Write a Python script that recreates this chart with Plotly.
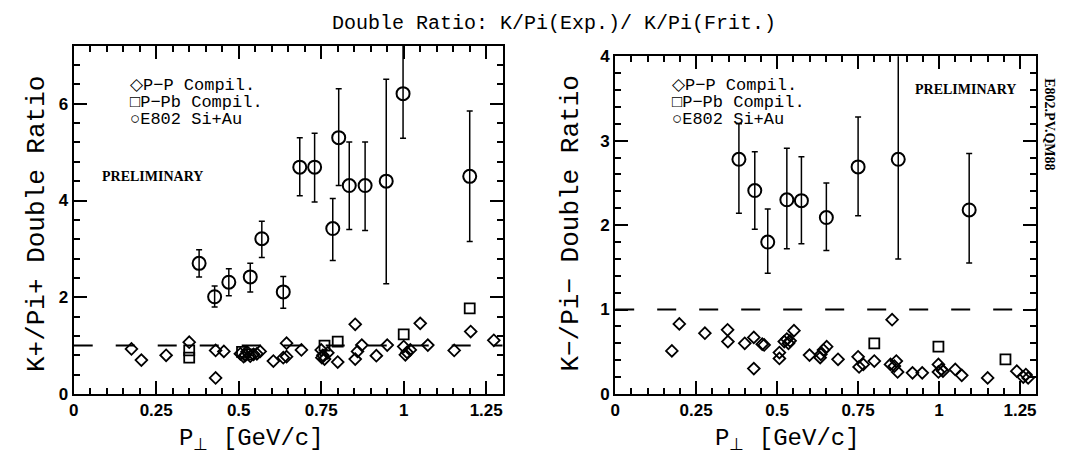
import plotly.graph_objects as go
from plotly.subplots import make_subplots

# ---------------- Left panel: K+/Pi+ double ratio ----------------
pp_pos_x = [0.175, 0.205, 0.28, 0.35, 0.43, 0.43, 0.455, 0.505, 0.515, 0.52, 0.525, 0.535,
            0.545, 0.555, 0.565, 0.605, 0.635, 0.645, 0.645, 0.69, 0.75, 0.752, 0.755, 0.76,
            0.77, 0.80, 0.853, 0.853, 0.86, 0.873, 0.917, 0.95, 1.0, 1.005, 1.01, 1.02,
            1.05, 1.073, 1.153, 1.203, 1.273]
pp_pos_y = [0.93, 0.70, 0.80, 1.07, 0.33, 0.90, 0.88, 0.83, 0.77, 0.80, 0.87, 0.78,
            0.82, 0.83, 0.88, 0.68, 0.75, 0.77, 1.05, 0.91, 0.91, 0.75, 0.80, 0.72,
            0.85, 0.66, 1.44, 0.72, 0.88, 1.01, 0.79, 1.01, 0.98, 0.81, 0.86, 0.91,
            1.46, 1.01, 0.90, 1.29, 1.11]
ppb_pos_x = [0.35, 0.35, 0.51, 0.53, 0.76, 0.80, 1.0, 1.2]
ppb_pos_y = [0.90, 0.75, 0.87, 0.82, 1.00, 1.08, 1.23, 1.77]
e802_pos_x = [0.38, 0.427, 0.47, 0.535, 0.57, 0.635, 0.685, 0.73, 0.785, 0.803, 0.835,
              0.883, 0.947, 0.998, 1.2]
e802_pos_y = [2.70, 2.01, 2.31, 2.42, 3.21, 2.11, 4.69, 4.69, 3.42, 5.30, 4.31,
              4.31, 4.40, 6.21, 4.50]
e802_pos_errp = [0.28, 0.22, 0.28, 0.28, 0.36, 0.32, 0.61, 0.70, 0.62, 1.01, 0.90,
                 0.90, 2.11, 2.0, 1.35]
e802_pos_errm = [0.28, 0.21, 0.28, 0.31, 0.39, 0.34, 0.59, 0.72, 0.66, 0.99, 0.91,
                 0.93, 2.12, 0.92, 1.35]

# ---------------- Right panel: K-/Pi- double ratio ----------------
pp_neg_x = [0.175, 0.198, 0.277, 0.347, 0.348, 0.40, 0.428, 0.428, 0.454, 0.46, 0.507,
            0.507, 0.522, 0.53, 0.535, 0.54, 0.552, 0.60, 0.635, 0.643, 0.653, 0.633,
            0.688, 0.75, 0.753, 0.766, 0.80, 0.855, 0.85, 0.862, 0.868, 0.872, 0.918,
            0.948, 0.998, 0.998, 1.008, 1.012, 1.05, 1.07, 1.15, 1.24, 1.26, 1.268, 1.275]
pp_neg_y = [0.51, 0.83, 0.72, 0.76, 0.62, 0.60, 0.67, 0.30, 0.59, 0.58, 0.49,
            0.42, 0.62, 0.65, 0.60, 0.63, 0.75, 0.46, 0.47, 0.52, 0.56, 0.43,
            0.41, 0.44, 0.32, 0.35, 0.39, 0.88, 0.35, 0.33, 0.39, 0.26, 0.25,
            0.25, 0.35, 0.26, 0.29, 0.27, 0.29, 0.22, 0.19, 0.27, 0.20, 0.23, 0.19]
ppb_neg_x = [0.80, 0.998, 1.205]
ppb_neg_y = [0.60, 0.56, 0.41]
e802_neg_x = [0.382, 0.431, 0.471, 0.53, 0.575, 0.652, 0.75, 0.874, 1.093]
e802_neg_y = [2.78, 2.41, 1.80, 2.30, 2.29, 2.09, 2.69, 2.78, 2.18]
e802_neg_errp = [0.42, 0.46, 0.39, 0.61, 0.52, 0.41, 0.59, 1.5, 0.67]
e802_neg_errm = [0.64, 0.46, 0.37, 0.58, 0.51, 0.39, 0.58, 1.18, 0.63]

x_major_step = 0.25
x_minor_step = 0.05
ypos_major_step, ypos_minor_step = 2, 0.4
yneg_major_step, yneg_minor_step = 1, 0.2
x_range = [0, 1.3]
ypos_range = [0, 7.2]
yneg_range = [0, 4]

W, H = 1077, 465
MONO = "Liberation Mono"

fig = make_subplots(rows=1, cols=2)

open_line = dict(color="black", width=1.8)
err_style = dict(type="data", symmetric=False, thickness=1.5, width=3, color="black")

for col, (px_, py_, bx_, by_, ex_, ey_, ep_, em_) in enumerate([
        (pp_pos_x, pp_pos_y, ppb_pos_x, ppb_pos_y, e802_pos_x, e802_pos_y, e802_pos_errp, e802_pos_errm),
        (pp_neg_x, pp_neg_y, ppb_neg_x, ppb_neg_y, e802_neg_x, e802_neg_y, e802_neg_errp, e802_neg_errm)], start=1):
    fig.add_trace(go.Scatter(x=px_, y=py_, mode="markers", name="P-P Compil.",
                             marker=dict(symbol="diamond-open", size=9, color="black", line=open_line),
                             showlegend=False), row=1, col=col)
    fig.add_trace(go.Scatter(x=bx_, y=by_, mode="markers", name="P-Pb Compil.",
                             marker=dict(symbol="square-open", size=10, color="black", line=open_line),
                             showlegend=False), row=1, col=col)
    fig.add_trace(go.Scatter(x=ex_, y=ey_, mode="markers", name="E802 Si+Au",
                             marker=dict(symbol="circle-open", size=13, color="black", line=dict(color="black", width=2)),
                             error_y=dict(err_style, array=ep_, arrayminus=em_),
                             showlegend=False), row=1, col=col)

# reference lines at ratio = 1
for xref, yref in [("x", "y"), ("x2", "y2")]:
    fig.add_shape(type="line", xref=xref, yref=yref, x0=x_range[0], x1=x_range[1], y0=1, y1=1,
                  line=dict(color="black", width=2, dash="19px,23px"))

AX_COMMON = dict(showline=True, linewidth=2, linecolor="black", mirror="ticks",
                 ticks="inside", ticklen=13, tickwidth=2, tickcolor="black",
                 showgrid=False, zeroline=False,
                 tickfont=dict(family="Liberation Sans", size=17, color="black", weight="bold"))

def minor(step):
    return dict(ticks="inside", ticklen=6, tickwidth=1.5, tickcolor="black",
                tickmode="linear", tick0=0, dtick=step)

left_x = [61 / W, 492 / W]
right_x = [605 / W, 1028 / W]
bottom = (H - 393) / H

for col, dom in [(1, left_x), (2, right_x)]:
    fig.update_xaxes(domain=dom, range=x_range, tickmode="linear", tick0=0, dtick=x_major_step,
                     minor=minor(x_minor_step), row=1, col=col, **AX_COMMON)
fig.update_yaxes(domain=[bottom, (H - 30) / H], range=ypos_range, tickmode="linear", tick0=0,
                 dtick=ypos_major_step, minor=minor(ypos_minor_step), row=1, col=1, **AX_COMMON)
fig.update_yaxes(domain=[bottom, (H - 41) / H], range=yneg_range, tickmode="linear", tick0=0,
                 dtick=yneg_major_step, minor=minor(yneg_minor_step), row=1, col=2, **AX_COMMON)

def ann(text, x, y, size, family=MONO, angle=0, xanchor="center", weight="normal"):
    fig.add_annotation(text=text, xref="paper", yref="paper", x=x / W, y=1 - y / H,
                       xanchor=xanchor, yanchor="middle", showarrow=False, textangle=angle,
                       font=dict(family=family, size=size, color="black", weight=weight))

# axis titles
ann("P<sub>⊥</sub> [GeV/c]", 240, 441, 24)
ann("P<sub>⊥</sub> [GeV/c]", 778, 441, 24)
ann("K+/Pi+ Double Ratio", 24, 216, 26, angle=-90)
ann("K−/Pi− Double Ratio", 561, 215, 26, angle=-90)

# legends drawn inside panels
sym = '<span style="font-size:17px">{}</span>'
for x0, ys in [(116, (71, 89, 107)), (660, (71, 89, 107))]:
    ann(sym.format("◇") + "P−P Compil.", x0, ys[0], 17, xanchor="left")
    ann(sym.format("□") + "P−Pb Compil.", x0, ys[1], 17, xanchor="left")
    ann(sym.format("○") + "E802 Si+Au", x0, ys[2], 17, xanchor="left")

ann("PRELIMINARY", 140, 166, 14, family="Liberation Serif", weight="bold")
ann("PRELIMINARY", 957, 76, 14, family="Liberation Serif", weight="bold")
ann("E802.PV.QM88", 1041, 112, 14, family="Liberation Serif", angle=90, weight="bold")

fig.update_layout(
    width=W, height=H,
    margin=dict(l=0, r=0, t=0, b=0),
    paper_bgcolor="white", plot_bgcolor="white",
    title=dict(text="Double Ratio: K/Pi(Exp.)/ K/Pi(Frit.)", x=546 / W, xanchor="center",
               y=1 - 14 / H, yanchor="middle", font=dict(family=MONO, size=20, color="black")),
    showlegend=False,
)

fig.write_html("out.html")
